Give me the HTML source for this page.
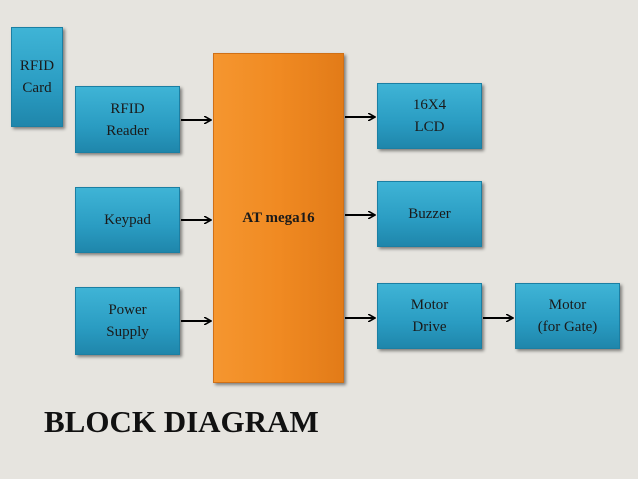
<!DOCTYPE html>
<html><head><meta charset="utf-8"><style>
body{margin:0;width:638px;height:479px;background:#e6e4df;position:relative;overflow:hidden;font-family:"Liberation Serif",serif;}
.b{position:absolute;background:linear-gradient(#3fb4d6,#2a9cc2 60%,#1f86ab);border:1px solid #1b7fa3;box-shadow:2px 2px 3px rgba(0,0,0,.45);display:flex;align-items:center;justify-content:center;text-align:center;font-size:15px;line-height:22px;color:#1a1a1a;box-sizing:border-box}
.o{background:linear-gradient(90deg,#f5962f,#f08a22 50%,#e27b18);border:1px solid #d07016;font-weight:bold}
svg{position:absolute;left:0;top:0}
</style></head><body>
<div class="b" style="left:11px;top:27px;width:52px;height:100px">RFID<br>Card</div>
<div class="b" style="left:75px;top:86px;width:105px;height:67px">RFID<br>Reader</div>
<div class="b" style="left:75px;top:187px;width:105px;height:66px">Keypad</div>
<div class="b" style="left:75px;top:287px;width:105px;height:68px">Power<br>Supply</div>
<div class="b o" style="left:213px;top:53px;width:131px;height:330px">AT mega16</div>
<div class="b" style="left:377px;top:83px;width:105px;height:66px">16X4<br>LCD</div>
<div class="b" style="left:377px;top:181px;width:105px;height:66px">Buzzer</div>
<div class="b" style="left:377px;top:283px;width:105px;height:66px">Motor<br>Drive</div>
<div class="b" style="left:515px;top:283px;width:105px;height:66px">Motor<br>(for Gate)</div>
<svg width="638" height="479"><defs><marker id="a" markerWidth="8" markerHeight="8" refX="7" refY="4" orient="auto" markerUnits="userSpaceOnUse"><path d="M0,0 L7,4 L0,8" fill="none" stroke="#000" stroke-width="1.6"/></marker></defs>
<g stroke="#000" stroke-width="2" marker-end="url(#a)">
<line x1="181" y1="120" x2="211" y2="120"/><line x1="181" y1="220" x2="211" y2="220"/><line x1="181" y1="321" x2="211" y2="321"/>
<line x1="345" y1="117" x2="375" y2="117"/><line x1="345" y1="215" x2="375" y2="215"/><line x1="345" y1="318" x2="375" y2="318"/><line x1="483" y1="318" x2="513" y2="318"/>
</g></svg>
<div style="position:absolute;left:44px;top:404px;font-size:31px;font-weight:bold;color:#111">BLOCK DIAGRAM</div>
</body></html>
